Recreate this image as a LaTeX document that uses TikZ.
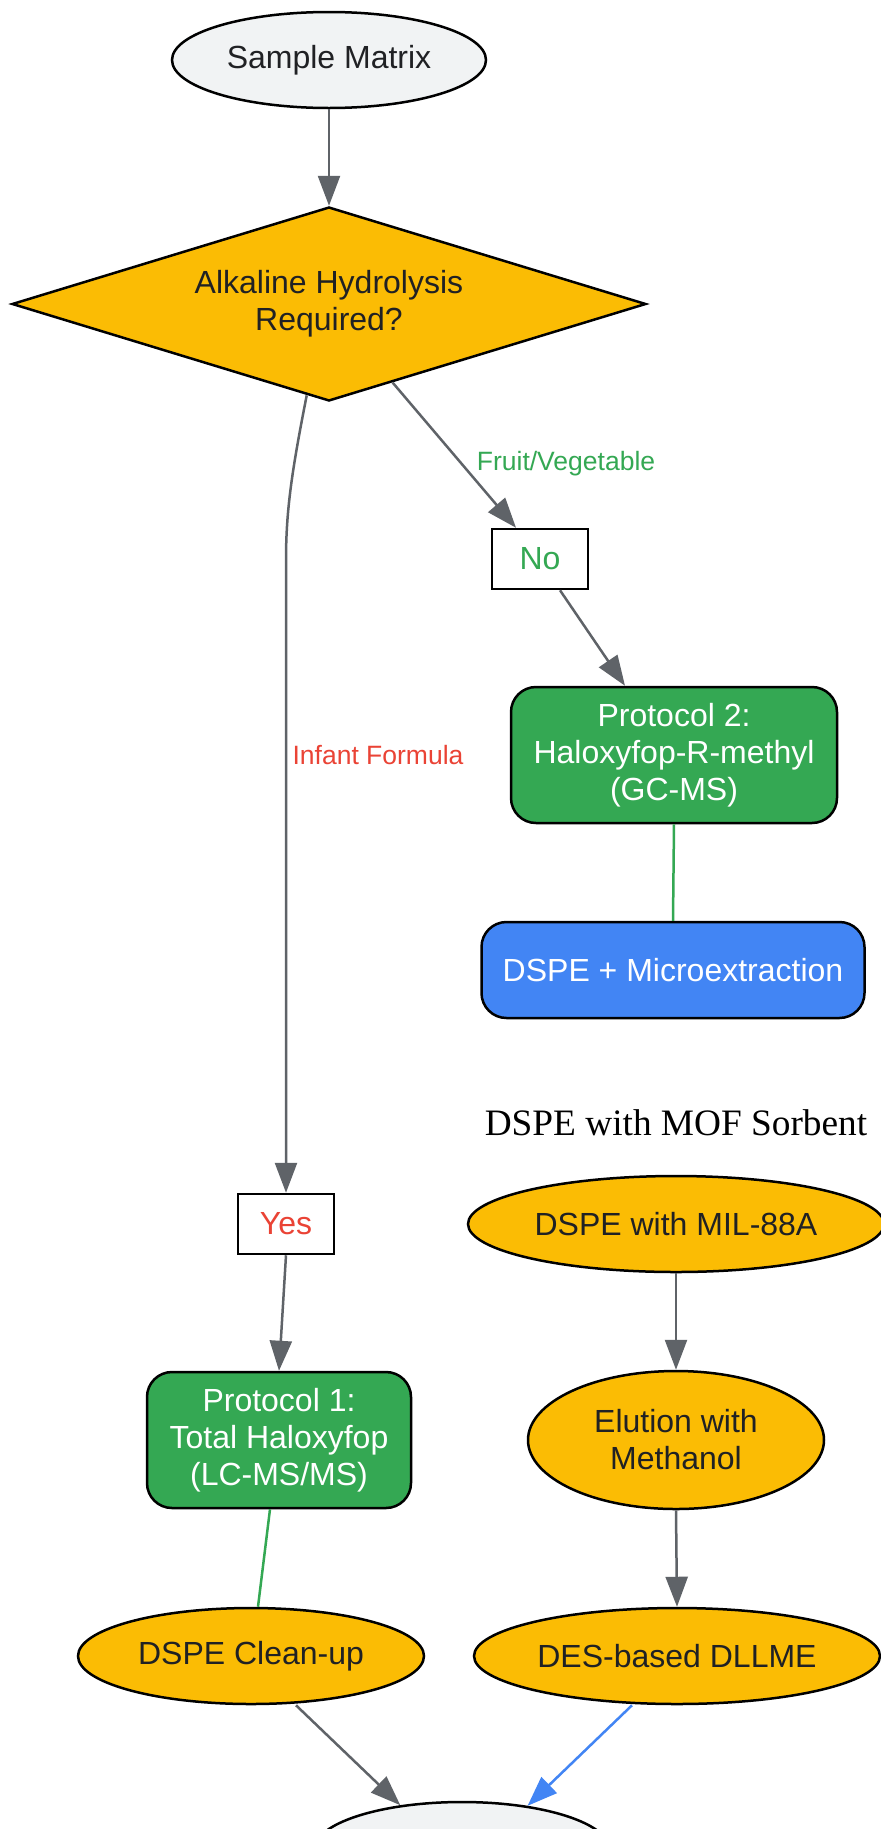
\documentclass[tikz,border=0pt]{standalone}
\usepackage{fontspec}
\setmainfont{Liberation Sans}
\newfontfamily\serifm{Liberation Serif}
\usetikzlibrary{shapes.geometric,arrows.meta,calc}
\definecolor{gy}{HTML}{FBBC04}
\definecolor{gg}{HTML}{34A853}
\definecolor{gb}{HTML}{4285F4}
\definecolor{gl}{HTML}{F1F3F4}
\definecolor{eg}{HTML}{5F6368}
\definecolor{gr}{HTML}{EA4335}
\definecolor{tx}{HTML}{202124}
\tikzset{
  base/.style={draw=black, line width=2.5pt, font=\fontsize{32}{37}\selectfont, align=center, inner sep=0pt, text=tx},
  ell/.style={base, ellipse},
  rbox/.style={base, rounded corners=25pt, text=white},
  lblbox/.style={base, fill=white, minimum width=96pt, minimum height=60pt},
  elabel/.style={font=\fontsize{26.5}{30}\selectfont, inner sep=0pt},
  arr/.style={draw=eg, line width=2.5pt, -{Triangle[length=30pt,width=22pt]}},
  plain/.style={draw=gg, line width=2.5pt}
}
\begin{document}
\begin{tikzpicture}[x=1pt,y=-1pt]
\clip (0,0) rectangle (881,1829);
\fill[white] (0,0) rectangle (881,1829);
% nodes
\node[ell, fill=gl, minimum width=314pt, minimum height=96pt] (sm) at (329,60) {Sample Matrix};
\node[base, diamond, aspect=3.27, fill=gy, minimum width=634pt, minimum height=194pt] (dia) at (329,304) {Alkaline Hydrolysis\\Required?};
\node[lblbox, text=gg] (no) at (540,559) {No};
\node[rbox, fill=gg, minimum width=326pt, minimum height=136pt] (p2) at (674,755) {Protocol 2:\\Haloxyfop-R-methyl\\(GC-MS)};
\node[rbox, fill=gb, minimum width=383pt, minimum height=96pt] (dm) at (673,970) {DSPE + Microextraction};
\node[lblbox, text=gr] (yes) at (286,1224) {Yes};
\node[rbox, fill=gg, minimum width=264pt, minimum height=136pt] (p1) at (279,1440) {Protocol 1:\\Total Haloxyfop\\(LC-MS/MS)};
\node[font=\serifm\fontsize{37.3}{40}\selectfont, inner sep=0pt] (mof) at (676,1123) {DSPE with MOF Sorbent};
\node[ell, fill=gy, minimum width=416pt, minimum height=96pt] (mil) at (676,1224) {DSPE with MIL-88A};
\node[ell, fill=gy, minimum width=296pt, minimum height=138pt] (el) at (676,1440) {Elution with\\Methanol};
\node[ell, fill=gy, minimum width=406pt, minimum height=96pt] (des) at (677,1656) {DES-based DLLME};
\node[ell, fill=gy, minimum width=346pt, minimum height=96pt] (cl) at (251,1656) {DSPE Clean-up};
\node[ell, fill=gl, minimum width=296pt, minimum height=96pt] (bot) at (462,1850) {};
% labels
\node[elabel, text=gg] (lfv) at (566,464) {Fruit/Vegetable};
\node[elabel, text=gr] (lif) at (378,755) {Infant Formula};
% edges
\draw[arr] (sm.south) -- (dia.north);
\draw[arr] ($(dia.south)!0.2!(dia.east)$) -- ($(no.north)+(-24,0)$);
\draw[arr] ($(no.south)+(20,0)$) -- ($(p2.north)+(-49,0)$);
\draw[plain] (p2.south) -- (dm.north);
\coordinate (bend) at (286,560);
\draw[arr] ($(dia.south)!0.07!(dia.west)$) .. controls (292,470) and (286,510) .. (bend) -- (yes.north);
\draw[arr] (yes.south) -- (p1.north);
\draw[plain] ($(p1.south)+(-9,0)$) -- ($(cl.north)+(7,0)$);
\draw[arr] (mil.south) -- (el.north);
\draw[arr] (el.south) -- (des.north);
\draw[arr] ($(cl.south)+(45,0)$) -- (bot.144);
\draw[arr, draw=gb] ($(des.south)+(-45,0)$) -- (bot.34);
\end{tikzpicture}
\end{document}
